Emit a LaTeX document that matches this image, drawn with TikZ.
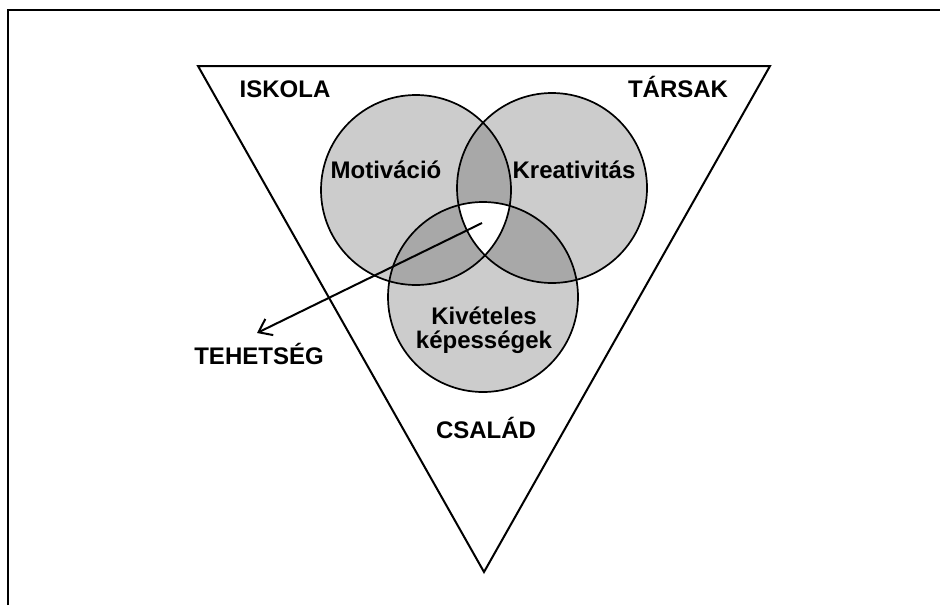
\documentclass[tikz,border=0pt]{standalone}
\usepackage{fontspec}
\setmainfont{Liberation Sans}
\usetikzlibrary{arrows.meta,positioning}
\definecolor{korszin}{gray}{0.80}
\definecolor{metszet}{gray}{0.66}
\tikzset{
  felirat/.style={font=\bfseries\fontsize{12}{12}\selectfont, inner sep=0pt, anchor=base},
  korvonal/.style={draw=black, line width=0.85pt},
}
\begin{document}
\begin{tikzpicture}[x=0.5pt,y=-0.5pt]
    \useasboundingbox (0,0) rectangle (940,605);
    \draw[line width=1.3pt] (8,605) -- (8,10) -- (940,10);
    \draw[line width=1pt] (198,66) -- (770,66) -- (484,572) -- cycle;
    \coordinate (M) at (416,190);
    \coordinate (K) at (552,188);
    \coordinate (E) at (483,297);
    % korok kitoltese
    \fill[korszin] (M) circle[radius=95] (K) circle[radius=95] (E) circle[radius=95];
    \begin{scope}
      \clip (M) circle[radius=95];
      \fill[metszet] (K) circle[radius=95] (E) circle[radius=95];
    \end{scope}
    \begin{scope}
      \clip (K) circle[radius=95];
      \fill[metszet] (E) circle[radius=95];
    \end{scope}
    \begin{scope}
      \clip (M) circle[radius=95];
      \clip (K) circle[radius=95];
      \fill[white] (E) circle[radius=95];
    \end{scope}
    \foreach \k in {M,K,E}
      \draw[korvonal] (\k) circle[radius=95];
    \node[felirat] (iskola) at (285,97) {ISKOLA};
    \node[felirat] (tarsak) at (678,97) {TÁRSAK};
    \node[felirat] (motivacio) at (386,178) {Motiváció};
    \node[felirat] (kreativitas) at (574,178) {Kreativitás};
    \node[felirat] (kiveteles) at (484,324) {Kivételes};
    \node[felirat] (kepessegek) at ([yshift=-12pt]kiveteles.base) {képességek};
    \node[felirat] (tehetseg) at (259,364) {TEHETSÉG};
    \node[felirat] (csalad) at (486,438) {CSALÁD};
    \coordinate (kozep) at (482,223);
    \coordinate (hegy) at (257,333);
    \draw[-{Straight Barb[length=6pt,width=9pt]}, line width=1pt] (kozep) -- (hegy);
\end{tikzpicture}
\end{document}
